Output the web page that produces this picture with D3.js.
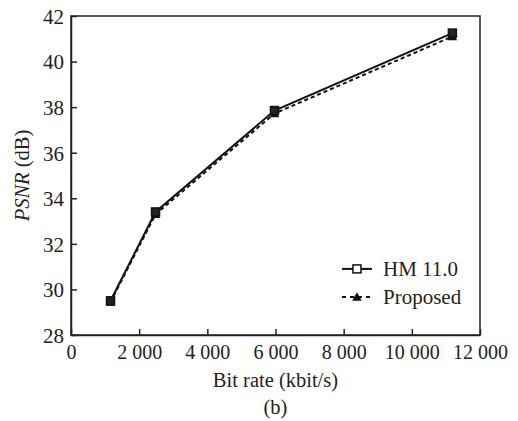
<!DOCTYPE html>
<html>
<head>
<meta charset="utf-8">
<script src="https://cdn.jsdelivr.net/npm/d3@7"></script>
<style>
  body { margin: 0; background: #fff; }
  text { font-family: "Liberation Serif", "Times New Roman", serif; fill: #222; }
</style>
</head>
<body>
<div id="chart"></div>
<script>
const bitRate = [1160, 2480, 5970, 11190];
const hmPsnr = [29.5, 33.4, 37.85, 41.25];
const propPsnr = [29.45, 33.3, 37.72, 41.1];
const xTicks = [0, 2000, 4000, 6000, 8000, 10000, 12000];
const yTicks = [28, 30, 32, 34, 36, 38, 40, 42];
const seriesNames = ["HM 11.0", "Proposed"];

let svgWidth = 518,
  svgHeight = 421,
  margin = { top: 16, right: 38, bottom: 86, left: 71 },
  width = svgWidth - margin.left - margin.right,
  height = svgHeight - margin.top - margin.bottom;

let x = d3.scaleLinear().domain([0, 12000]).range([0, width]),
  y = d3.scaleLinear().domain([28, 42]).range([height, 0]);

const fmt = d => d3.format(",")(d).replace(",", " ");

let svg = d3
  .select("#chart")
  .append("svg")
  .attr("width", svgWidth)
  .attr("height", svgHeight);

let g = svg
  .append("g")
  .attr("transform", "translate(" + margin.left + "," + margin.top + ")");

// frame
g.append("rect")
  .attr("width", width)
  .attr("height", height)
  .attr("fill", "none")
  .attr("stroke", "#222")
  .attr("stroke-width", 1.5);

// axes, ticks pointing inward
let xAxis = d3.axisBottom(x).tickValues(xTicks).tickFormat(fmt).tickSizeInner(-6).tickSizeOuter(0).tickPadding(9);
let yAxis = d3.axisLeft(y).tickValues(yTicks).tickSizeInner(-6).tickSizeOuter(0).tickPadding(7);

let gx = g.append("g").attr("transform", "translate(0," + height + ")").call(xAxis);
let gy = g.append("g").call(yAxis);

[gx, gy].forEach(a => {
  a.select(".domain").attr("stroke", "#222").attr("stroke-width", 1.5);
  a.selectAll(".tick line").attr("stroke", "#222").attr("stroke-width", 1.5);
  a.selectAll(".tick text").attr("fill", "#222");
});
gx.selectAll(".tick text").style("font-size", "20px").attr("dy", "0.75em");
gy.selectAll(".tick text").style("font-size", "21px").attr("dy", "0.35em");

// axis titles
svg.append("text")
  .attr("x", margin.left + width / 2)
  .attr("y", 387)
  .attr("text-anchor", "middle")
  .style("font-size", "20.5px")
  .text("Bit rate (kbit/s)");

svg.append("text")
  .attr("x", margin.left + width / 2)
  .attr("y", 414)
  .attr("text-anchor", "middle")
  .style("font-size", "20.5px")
  .text("(b)");

let yt = svg.append("text")
  .attr("transform", "translate(29," + (margin.top + height / 2) + ") rotate(-90)")
  .attr("text-anchor", "middle")
  .style("font-size", "20.5px");
yt.append("tspan").style("font-style", "italic").text("PSNR");
yt.append("tspan").text(" (dB)");

// lines
let line = d3.line().x(d => x(d[0])).y(d => y(d[1]));
const hmData = bitRate.map((b, i) => [b, hmPsnr[i]]);
const propData = bitRate.map((b, i) => [b, propPsnr[i]]);

g.append("path")
  .datum(propData)
  .attr("d", line)
  .attr("fill", "none")
  .attr("stroke", "#111")
  .attr("stroke-width", 2)
  .attr("stroke-dasharray", "4,3");

g.append("path")
  .datum(hmData)
  .attr("d", line)
  .attr("fill", "none")
  .attr("stroke", "#111")
  .attr("stroke-width", 2);

const tri = d3.symbol().type(d3.symbolTriangle).size(40);

g.selectAll(".tri")
  .data(propData)
  .enter()
  .append("path")
  .attr("d", tri)
  .attr("transform", d => "translate(" + x(d[0]) + "," + (y(d[1]) + 1) + ")")
  .attr("fill", "#111");

g.selectAll(".sq")
  .data(hmData)
  .enter()
  .append("rect")
  .attr("x", d => x(d[0]) - 4)
  .attr("y", d => y(d[1]) - 4)
  .attr("width", 8)
  .attr("height", 8)
  .attr("fill", "#222")
  .attr("stroke", "#111")
  .attr("stroke-width", 1.5);

// legend
let legend = g.append("g").attr("transform", "translate(" + (x(7950)) + "," + (y(30.9)) + ")");

legend.append("line")
  .attr("x1", 0).attr("x2", 30).attr("y1", 0).attr("y2", 0)
  .attr("stroke", "#111").attr("stroke-width", 2);
legend.append("rect")
  .attr("x", 11).attr("y", -4).attr("width", 8).attr("height", 8)
  .attr("fill", "#fff").attr("stroke", "#111").attr("stroke-width", 1.5);
legend.append("text")
  .attr("x", 41).attr("y", 0).attr("dy", "0.35em")
  .style("font-size", "21px")
  .text(seriesNames[0]);

legend.append("line")
  .attr("x1", 0).attr("x2", 30).attr("y1", 28).attr("y2", 28)
  .attr("stroke", "#111").attr("stroke-width", 2)
  .attr("stroke-dasharray", "4,4");
legend.append("path")
  .attr("d", tri)
  .attr("transform", "translate(15,29)")
  .attr("fill", "#111");
legend.append("text")
  .attr("x", 41).attr("y", 28).attr("dy", "0.35em")
  .style("font-size", "21px")
  .text(seriesNames[1]);
</script>
</body>
</html>
